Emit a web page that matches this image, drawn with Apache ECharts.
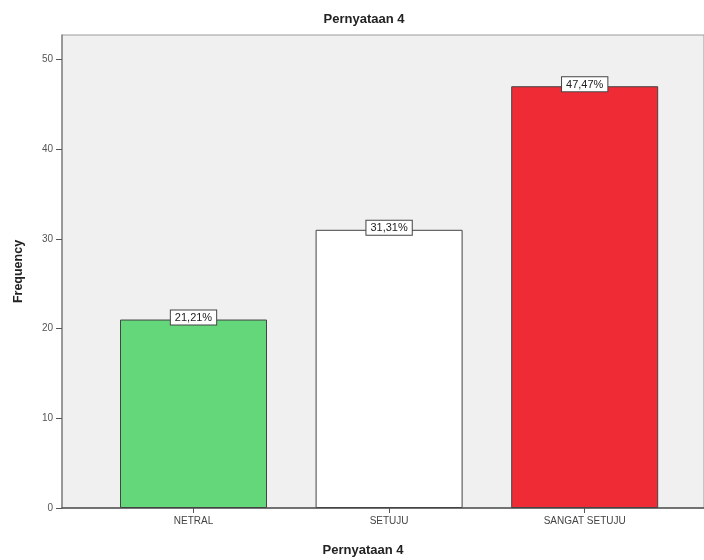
<!DOCTYPE html>
<html>
<head>
<meta charset="utf-8">
<title>Pernyataan 4</title>
<script src="https://cdn.jsdelivr.net/npm/echarts@6/dist/echarts.min.js"></script>
<style>
  html, body { margin: 0; padding: 0; background: #ffffff; }
  #chart { width: 704px; height: 560px; }
</style>
</head>
<body>
<div id="chart"></div>
<script>
// Response categories and their frequencies
const categories = ['NETRAL', 'SETUJU', 'SANGAT SETUJU'];
const frequencies = [21, 31, 47];
const percentLabels = ['21,21%', '31,31%', '47,47%'];
const barColors = ['#64d77b', '#ffffff', '#ef2b36'];
const yTicks = [0, 10, 20, 30, 40, 50];

const FONT = '"Liberation Sans", Arial, sans-serif';

const chart = echarts.init(document.getElementById('chart'), null, { renderer: 'canvas' });

chart.setOption({
  animation: false,
  backgroundColor: '#ffffff',
  title: [
    {
      text: 'Pernyataan 4',
      left: 359, top: 8, textAlign: 'center',
      textStyle: { fontFamily: FONT, fontSize: 13, fontWeight: 'bold', color: '#222' }
    },
    {
      text: 'Pernyataan 4',
      left: 358, top: 539, textAlign: 'center',
      textStyle: { fontFamily: FONT, fontSize: 13, fontWeight: 'bold', color: '#222' }
    }
  ],
  grid: [
    // plot frame with grey background
    { left: 62, right: -2, top: 35, bottom: 52, show: true,
      backgroundColor: '#f0f0f0', borderColor: '#9a9a9a', borderWidth: 1 },
    // bar area
    { left: 95.7, right: 21.5, top: 59.3, bottom: 52 }
  ],
  xAxis: [
    { gridIndex: 0, type: 'value', min: 0, max: 1,
      axisLine: { show: true, lineStyle: { color: '#555', width: 1.5 } },
      axisTick: { show: false }, axisLabel: { show: false }, splitLine: { show: false } },
    { gridIndex: 1, type: 'category', data: categories,
      axisLine: { show: false },
      axisTick: { show: true, alignWithLabel: true, length: 5, lineStyle: { color: '#555' } },
      axisLabel: { fontFamily: FONT, fontSize: 10, color: '#444', margin: 8 } }
  ],
  yAxis: [
    { gridIndex: 0, type: 'value', min: 0, max: 1,
      name: 'Frequency', nameLocation: 'middle', nameGap: 37,
      nameTextStyle: { fontFamily: FONT, fontSize: 12.5, fontWeight: 'bold', color: '#222' },
      axisLine: { show: true, lineStyle: { color: '#888', width: 1.5 } },
      axisTick: { show: false }, axisLabel: { show: false }, splitLine: { show: false } },
    { gridIndex: 1, type: 'value', min: yTicks[0], max: yTicks[yTicks.length - 1], interval: 10,
      offset: 33.7,
      axisLine: { show: false },
      axisTick: { show: true, length: 6, lineStyle: { color: '#555' } },
      axisLabel: { fontFamily: FONT, fontSize: 10, color: '#555', margin: 9 },
      splitLine: { show: false } }
  ],
  series: [
    {
      type: 'bar',
      xAxisIndex: 1, yAxisIndex: 1,
      barWidth: 147,
      data: frequencies.map((v, i) => ({
        value: v,
        itemStyle: { color: barColors[i], borderColor: '#444', borderWidth: 1 }
      })),
      label: {
        show: true,
        position: 'top',
        distance: -5,
        formatter: (p) => percentLabels[p.dataIndex],
        fontFamily: FONT, fontSize: 11, color: '#222',
        backgroundColor: '#ffffff',
        borderColor: '#444', borderWidth: 1,
        padding: [2, 4, 1, 4]
      }
    }
  ]
});
</script>
</body>
</html>
